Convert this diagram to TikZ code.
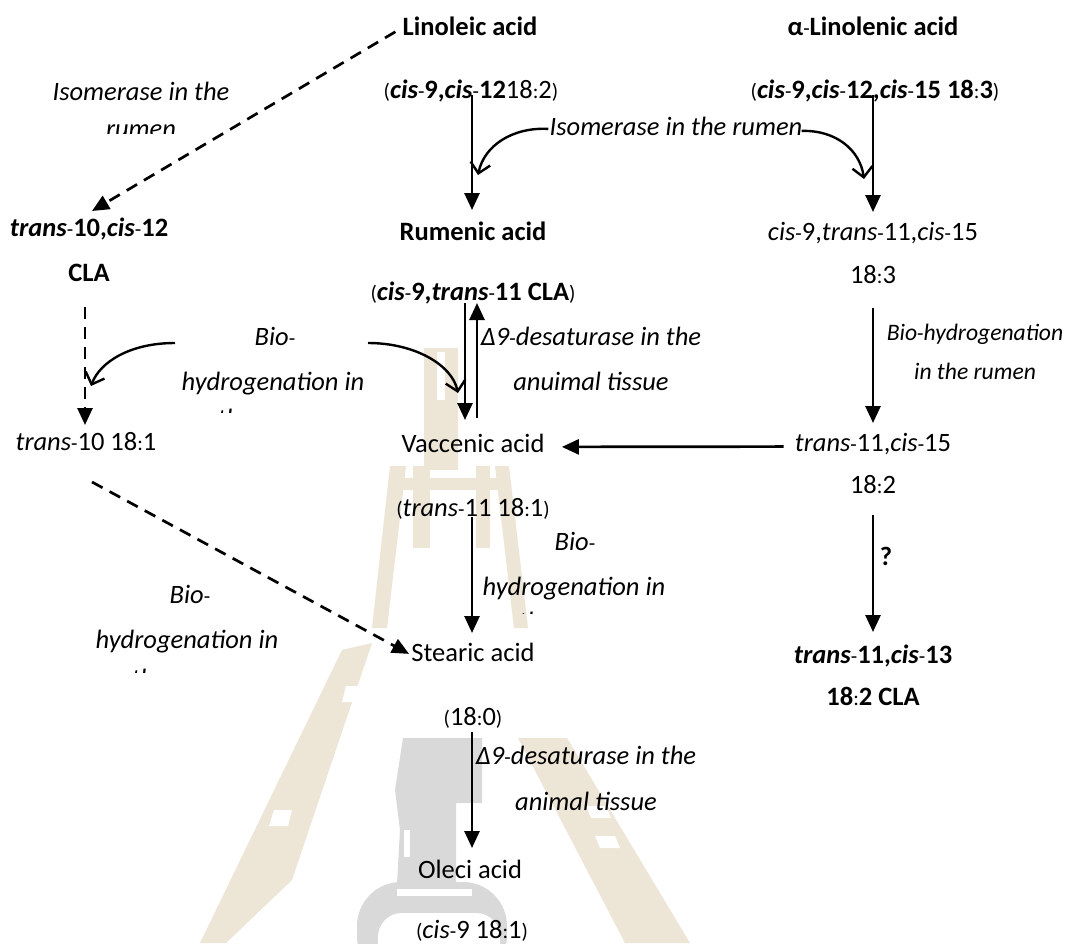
\documentclass[tikz,border=0pt]{standalone}
\usepackage{fontspec}
\setmainfont{Carlito}
\usetikzlibrary{arrows.meta,calc}
\newcommand\myfs{\fontsize{13.25}{16}\selectfont}
\newcommand\myrs{\fontsize{11.8}{14}\selectfont}
\newcommand\mysm{\fontsize{10.5}{12}\selectfont}
\newcommand\myhy{{\normalfont\mysm -}}
\newcommand\mylp{{\normalfont\mysm (}}
\newcommand\myrp{{\normalfont\mysm )}}
\newcommand\mycol{{\normalfont\mysm :}}
\newcommand\bi[1]{\textbf{\textit{#1}}}
\definecolor{wmtan}{RGB}{237,229,214}
\definecolor{wmgrey}{RGB}{217,217,217}
\begin{document}
\begin{tikzpicture}[x=0.5pt,y=-0.5pt,
  every node/.style={inner sep=0pt,font=\myfs},
  lab/.style={anchor=base},
  arr/.style={line width=1.35pt,-{Triangle[length=8.5pt,width=7.5pt]}},
  darr/.style={arr,dash pattern=on 6pt off 4pt},
  carr/.style={line width=1.2pt,-{Straight Barb[length=5pt,width=10pt,line width=1.2pt]}}]
\fill[white] (0,0) rectangle (1066,943);
\useasboundingbox (0,0) rectangle (1066,943);
% ---------- watermark ----------
\begin{scope}
\clip (0,0) rectangle (1066,943);
\fill[wmtan] (424,348) rectangle (458,470);
\fill[white] (437,352) rectangle (445,400);
\fill[wmtan] (392,478) rectangle (510,490);
\fill[wmtan] (413,466) rectangle (430,548);
\fill[wmtan] (476,466) rectangle (490,548);
\fill[wmtan] (390,466) -- (406,466) -- (387,628) -- (372,628) -- cycle;
\fill[wmtan] (495,466) -- (509,466) -- (528,628) -- (514,628) -- cycle;
\fill[wmtan] (342,650) -- (372,643) -- (292,880) -- (226,943) -- (200,943) -- cycle;
\fill[white] (346,686) -- (362,686) -- (359,702) -- (342,702) -- cycle;
\fill[white] (274,810) -- (292,810) -- (288,826) -- (269,826) -- cycle;
\fill[wmtan] (518,738) -- (567,738) -- (690,943) -- (625,943) -- cycle;
\fill[white] (586,806) -- (606,806) -- (611,818) -- (591,818) -- cycle;
\fill[white] (595,836) -- (615,836) -- (620,848) -- (600,848) -- cycle;
\fill[wmgrey] (403,738) -- (482,738) -- (482,803) -- (456,803) -- (456,884) -- (397,884) -- (400,830) -- (395,790) -- cycle;
\fill[wmgrey,rounded corners=22] (357,980) -- (357,882) -- (507,882) -- (507,980) -- cycle;
\fill[white] (397,889) rectangle (472,896);
\fill[white,rounded corners=12] (378,913) rectangle (500,990);
\fill[white] (404,830) rectangle (410,857);
\end{scope}
% ---------- texts ----------
\node[lab] (lin) at (470,35) {\textbf{Linoleic acid}};
\node[lab] (linf) at (471,98) {\mylp\bi{cis}\myhy\textbf{9,}\bi{cis}\myhy\textbf{12}18\mycol 2\myrp};
\node[lab] (alin) at (873,35) {\textbf{α\myhy Linolenic acid}};
\node[lab] (alinf) at (875,98) {\mylp\bi{cis}\myhy\textbf{9,}\bi{cis}\myhy\textbf{12,}\bi{cis}\myhy\textbf{15 18}\mycol\textbf{3}\myrp};
\node[lab] (iso1) at (141,100) {\textit{Isomerase in the}};
\begin{scope}
\clip (0,100) rectangle (300,133);
\node[lab] (iso2) at (141,137) {\textit{rumen}};
\end{scope}
\node[lab] (isoR) at (676,135) {\textit{Isomerase in the rumen}};
\node[lab] (t10c12) at (89,236) {\bi{trans}\myhy\textbf{10,}\bi{cis}\myhy\textbf{12}};
\node[lab] (cla) at (89,281) {\textbf{CLA}};
\node[lab] (rum) at (473,240) {\textbf{Rumenic acid}};
\node[lab] (c9t11c15) at (873,240) {\textit{cis}\myhy 9,\textit{trans}\myhy 11,\textit{cis}\myhy 15};
\node[lab] (f183) at (873,283) {18\mycol 3};
\node[lab] (c9t11cla) at (473,300) {\mylp\bi{cis}\myhy\textbf{9,}\bi{trans}\myhy\textbf{11 CLA}\myrp};
\node[lab] (bio1) at (275,345) {\textit{Bio}\myhy};
\node[lab] (bio2) at (273,390) {\textit{hydrogenation in}};
\begin{scope}
\clip (100,395) rectangle (400,412);
\node[lab] (bio3) at (273,427) {\textit{the rumen}};
\end{scope}
\node[lab] (d9a) at (591,345) {\textit{Δ9}\myhy\textit{desaturase in the}};
\node[lab] (d9b) at (591,390) {\textit{anuimal tissue}};
\node[lab,font=\myrs] (bhr1) at (975,340) {\textit{Bio}\myhy\textit{hydrogenation}};
\node[lab,font=\myrs] (bhr2) at (975,379) {\textit{in the rumen}};
\node[lab] (t10) at (86,450) {\textit{trans}\myhy 10 18\mycol 1};
\node[lab] (vac) at (473,452) {Vaccenic acid};
\node[lab] (t11c15) at (873,451) {\textit{trans}\myhy 11,\textit{cis}\myhy 15};
\node[lab] (f182) at (873,493) {18\mycol 2};
\node[lab] (t11f) at (473,516) {\mylp\textit{trans}\myhy 11 18\mycol 1\myrp};
\node[lab] (biom1) at (575,550) {\textit{Bio}\myhy};
\node[lab] (biom2) at (574,595) {\textit{hydrogenation in}};
\begin{scope}
\clip (450,600) rectangle (700,613);
\node[lab] (biom3) at (574,630) {\textit{the rumen}};
\end{scope}
\node[lab] (biol1) at (190,603) {\textit{Bio}\myhy};
\node[lab] (biol2) at (187,648) {\textit{hydrogenation in}};
\begin{scope}
\clip (50,655) rectangle (320,672);
\node[lab] (biol3) at (187,687) {\textit{the rumen}};
\end{scope}
\node[lab] (stear) at (473,661) {Stearic acid};
\node[lab] (q) at (886,565) {\textbf{?}};
\node[lab] (t11c13) at (873,663) {\bi{trans}\myhy\textbf{11,}\bi{cis}\myhy\textbf{13}};
\node[lab] (f182cla) at (873,705) {\textbf{18}\mycol\textbf{2 CLA}};
\node[lab] (f180) at (473,725) {\mylp 18\mycol 0\myrp};
\node[lab] (d9c) at (586,764) {\textit{Δ9}\myhy\textit{desaturase in the}};
\node[lab] (d9d) at (586,810) {\textit{animal tissue}};
\node[lab] (olec) at (470,878) {Oleci acid};
\node[lab] (c9f) at (472,938) {\mylp\textit{cis}\myhy 9 18\mycol 1\myrp};
% ---------- free ends of curved arrows ----------
\coordinate (ciL) at (478,175);
\coordinate (ciR) at (864,179);
\coordinate (bL0) at (175,343);
\coordinate (bL1) at (91,386);
\coordinate (bR0) at (368,343);
\coordinate (bR1) at (458,393);
% ---------- connectors ----------
\draw[arr] ($(linf.base)+(1,-3)$) -- ($(rum.base)+(-1,-30)$);
\draw[arr] ($(alinf.base)+(-2,-3)$) -- ($(c9t11c15.base)+(0,-28)$);
\draw[darr] ($(lin.west)+(-7,6)$) -- ($(t10c12.base)+(3,-25)$);
\draw[darr] ($(cla.base)+(-4,26)$) -- ($(t10.base)+(-1,-25)$);
\draw[carr] ($(isoR.west)+(-1,3)$) .. controls (512,127) and (484,146) .. (ciL);
\draw[carr] ($(isoR.east)+(-1,5)$) .. controls (836,130) and (860,150) .. (ciR);
\draw[carr] (bL0) .. controls (130,343) and (100,362) .. (bL1);
\draw[carr] (bR0) .. controls (415,343) and (452,365) .. (bR1);
\draw[arr] ($(c9t11cla.base)+(-8,3)$) -- ($(vac.base)+(-8,-32)$);
\draw[arr] ($(vac.base)+(4,-34)$) -- ($(c9t11cla.base)+(4,3)$);
\draw[arr] ($(f183.base)+(0,25)$) -- ($(t11c15.base)+(0,-28)$);
\draw[arr] ($(t11c15.west)+(-11,3)$) -- ($(vac.east)+(17,4)$);
\draw[arr] ($(t11f.base)+(-1,1)$) -- ($(stear.base)+(-1,-28)$);
\draw[darr] ($(t10.base)+(6,32)$) -- ($(stear.west)+(-2,2)$);
\draw[arr] ($(f182.base)+(0,22)$) -- ($(t11c13.base)+(0,-31)$);
\draw[arr] ($(f180.base)+(-1,7)$) -- ($(olec.base)+(2,-30)$);
\end{tikzpicture}
\end{document}
